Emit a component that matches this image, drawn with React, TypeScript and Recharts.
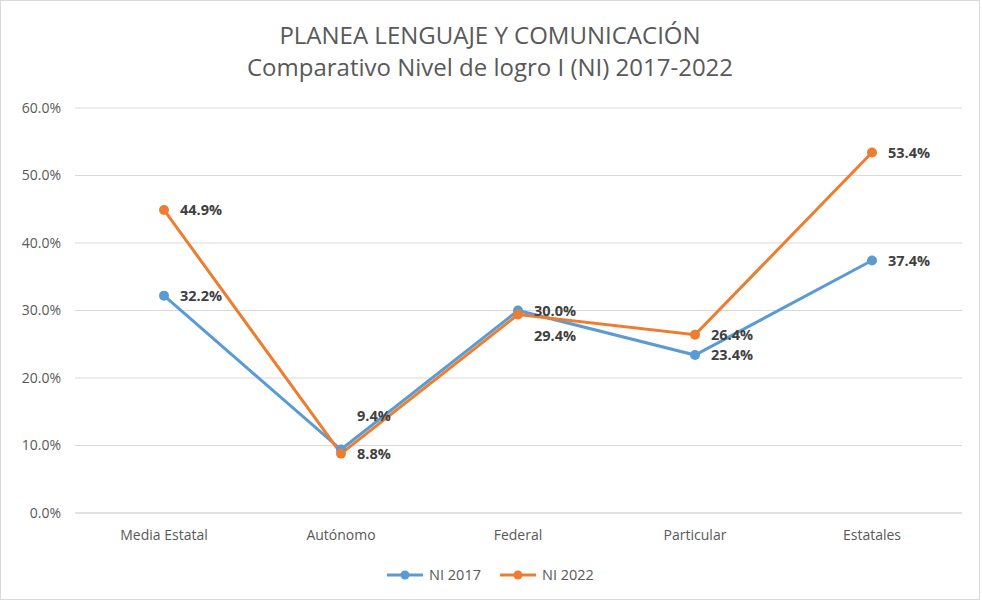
import React from 'react';
import {
  LineChart,
  Line,
  XAxis,
  YAxis,
  CartesianGrid,
  Legend,
  LabelList,
} from 'recharts';

const categories = ['Media Estatal', 'Autónomo', 'Federal', 'Particular', 'Estatales'];
const ni2017 = [32.2, 9.4, 30.0, 23.4, 37.4];
const ni2022 = [44.9, 8.8, 29.4, 26.4, 53.4];
const yTicks = [0, 10, 20, 30, 40, 50, 60];

const BLUE = '#5B9BD5';
const ORANGE = '#ED7D31';
const FONT = '"Open Sans", Roboto, sans-serif';

const data = categories.map((name, i) => ({
  name,
  ni2017: ni2017[i],
  ni2022: ni2022[i],
}));

// a couple of labels are nudged off the point so they don't collide
const labelShift: Record<string, Record<number, number>> = {
  ni2017: { 1: -34 },
  ni2022: { 2: 21 },
};

const makeLabel = (key: string) => (props: any) => {
  const { x, y, value, index } = props;
  const dy = labelShift[key][index] ?? 0;
  return (
    <text
      x={x + 16}
      y={y + dy}
      dy="0.36em"
      fill="#404040"
      fontSize={14.5}
      fontWeight={700}
      fontFamily={FONT}
    >
      {`${Number(value).toFixed(1)}%`}
    </text>
  );
};

const LegendContent = () => (
  <div style={{ display: 'flex', justifyContent: 'center', gap: 18, fontFamily: FONT, fontSize: 14.5, color: '#595959' }}>
    {[
      { label: 'NI 2017', color: BLUE },
      { label: 'NI 2022', color: ORANGE },
    ].map((s) => (
      <div key={s.label} style={{ display: 'flex', alignItems: 'center' }}>
        <svg width={38} height={12} style={{ marginRight: 5 }}>
          <line x1={1} y1={6} x2={37} y2={6} stroke={s.color} strokeWidth={3} />
          <circle cx={19} cy={6} r={4.5} fill={s.color} />
        </svg>
        <span>{s.label}</span>
      </div>
    ))}
  </div>
);

const App: React.FC = () => {
  return (
    <div
      style={{
        position: 'absolute',
        left: 0,
        top: 0,
        width: 978,
        height: 598,
        border: '1px solid #D9D9D9',
        background: '#fff',
      }}
    >
      <div
        style={{
          position: 'absolute',
          top: 18,
          left: 0,
          width: '100%',
          textAlign: 'center',
          fontFamily: FONT,
          fontSize: 24,
          lineHeight: '32px',
          color: '#595959',
        }}
      >
        <div>PLANEA LENGUAJE Y COMUNICACIÓN</div>
        <div>Comparativo Nivel de logro I (NI) 2017-2022</div>
      </div>
      <LineChart
        width={978}
        height={598}
        data={data}
        margin={{ top: 107, right: 17, bottom: 46, left: 0 }}
      >
        <CartesianGrid vertical={false} stroke="#D9D9D9" strokeWidth={1} />
        <XAxis
          dataKey="name"
          axisLine={{ stroke: '#D9D9D9' }}
          tickLine={false}
          height={40}
          tickMargin={11}
          padding={{ left: 89, right: 90 }}
          tick={{ fill: '#595959', fontSize: 14, fontFamily: FONT }}
        />
        <YAxis
          domain={[0, 60]}
          ticks={yTicks}
          width={74}
          axisLine={false}
          tickLine={false}
          tickMargin={8}
          tickFormatter={(v: number) => `${v.toFixed(1)}%`}
          tick={{ fill: '#595959', fontSize: 14, fontFamily: FONT }}
        />
        <Legend
          layout="horizontal"
          verticalAlign="middle"
          wrapperStyle={{ top: 564, left: 0, width: 978 }}
          content={<LegendContent />}
        />
        <Line
          type="linear"
          dataKey="ni2017"
          name="NI 2017"
          stroke={BLUE}
          strokeWidth={3}
          dot={{ r: 5, fill: BLUE, stroke: BLUE, strokeWidth: 0 }}
          isAnimationActive={false}
        >
          <LabelList dataKey="ni2017" content={makeLabel('ni2017')} />
        </Line>
        <Line
          type="linear"
          dataKey="ni2022"
          name="NI 2022"
          stroke={ORANGE}
          strokeWidth={3}
          dot={{ r: 5, fill: ORANGE, stroke: ORANGE, strokeWidth: 0 }}
          isAnimationActive={false}
        >
          <LabelList dataKey="ni2022" content={makeLabel('ni2022')} />
        </Line>
      </LineChart>
    </div>
  );
};

export default App;
